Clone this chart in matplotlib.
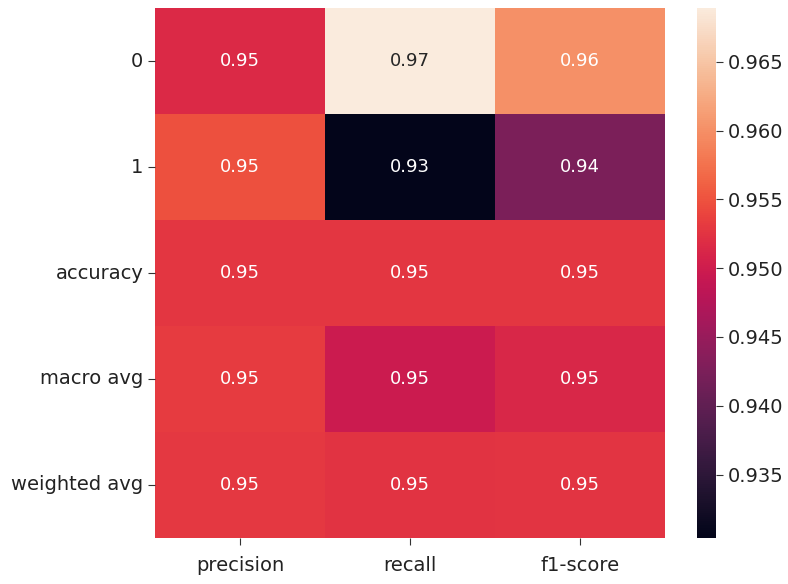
import matplotlib
matplotlib.use("Agg")
import matplotlib.pyplot as plt
import seaborn as sns
import pandas as pd

rows = ["0", "1", "accuracy", "macro avg", "weighted avg"]
cols = ["precision", "recall", "f1-score"]
precision = [0.9515, 0.9549, 0.9527, 0.9532, 0.9529]
recall = [0.9689, 0.9304, 0.9527, 0.9497, 0.9525]
f1_score = [0.9601, 0.9425, 0.9527, 0.9513, 0.9526]

df = pd.DataFrame({"precision": precision, "recall": recall, "f1-score": f1_score}, index=rows)[cols]

plt.rcParams['font.family'] = ['DejaVu Sans']
fig = plt.figure(figsize=(7.88, 5.84), dpi=100)
ax = fig.add_axes([0.197, 0.079, 0.647, 0.907])
cax = fig.add_axes([0.885, 0.079, 0.024, 0.907])

sns.heatmap(df, annot=True, cmap="rocket", ax=ax, cbar_ax=cax,
            annot_kws={"fontsize": 13})
ax.tick_params(axis='both', labelsize=14, colors='#333333', labelcolor='#222222',
               length=5)
ax.tick_params(axis='x', pad=8)
ax.set_yticklabels(rows, rotation=0)
ax.set_xticklabels(cols, rotation=0)
cax.tick_params(labelsize=14, colors='#333333', labelcolor='#222222', length=5)
cax.set_yticks([0.935, 0.940, 0.945, 0.950, 0.955, 0.960, 0.965])
cax.set_yticklabels(["0.935", "0.940", "0.945", "0.950", "0.955", "0.960", "0.965"])

fig.savefig("out.png", dpi=100)
